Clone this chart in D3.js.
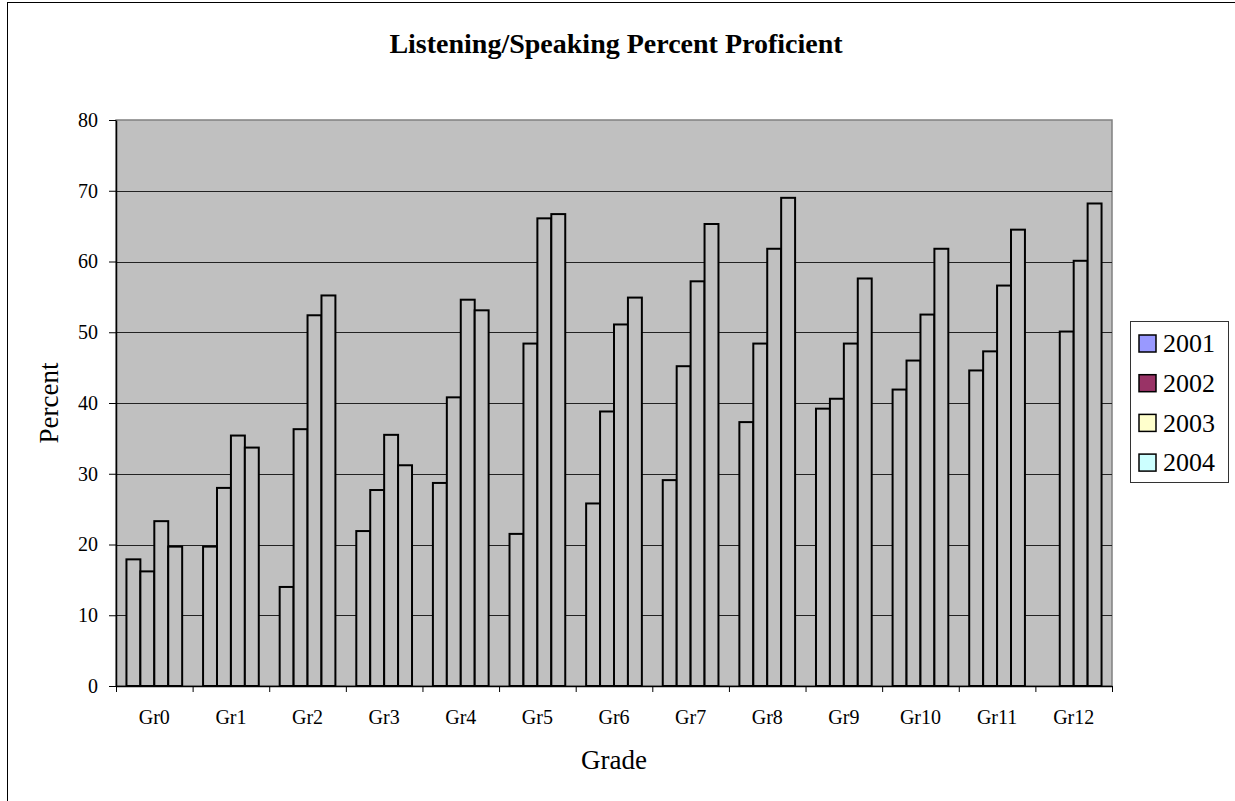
<!DOCTYPE html>
<html>
<head>
<meta charset="utf-8">
<script src="https://cdn.jsdelivr.net/npm/d3@7"></script>
<style>
  body { margin: 0; background: #fff; }
  svg { display: block; }
  svg text { font-family: "Liberation Serif", "Times New Roman", serif; }
</style>
</head>
<body>
<script>
// values
const grades = ['Gr0', 'Gr1', 'Gr2', 'Gr3', 'Gr4', 'Gr5', 'Gr6', 'Gr7', 'Gr8', 'Gr9', 'Gr10', 'Gr11', 'Gr12'];
const years = ['2001', '2002', '2003', '2004'];
const y2001 = [17.9, 19.7, 14.0, 21.9, 28.7, 21.5, 25.8, 29.1, 37.3, 39.2, 41.9, 44.6, null];
const y2002 = [16.2, 28.0, 36.3, 27.7, 40.8, 48.4, 38.8, 45.2, 48.4, 40.6, 46.0, 47.3, 50.1];
const y2003 = [23.3, 35.4, 52.4, 35.5, 54.6, 66.1, 51.1, 57.2, 61.8, 48.4, 52.5, 56.6, 60.1];
const y2004 = [19.7, 33.7, 55.2, 31.2, 53.1, 66.7, 54.9, 65.3, 69.0, 57.6, 61.8, 64.5, 68.2];
const yTicks = [0, 10, 20, 30, 40, 50, 60, 70, 80];
const legendColors = ['#9999ff', '#993366', '#ffffcc', '#ccffff'];

const width = 1235;
const height = 801;
const plot = { left: 116, right: 1112, top: 120, bottom: 686 };
const serif = '"Liberation Serif", "Times New Roman", serif';

const series = [y2001, y2002, y2003, y2004];

const svg = d3.select('body').append('svg')
  .attr('width', width)
  .attr('height', height);

// outer chart frame (right and bottom fall off the page)
svg.append('rect')
  .attr('x', 7.5).attr('y', 2.5)
  .attr('width', 1240).attr('height', 820)
  .attr('fill', '#fff')
  .attr('stroke', '#000');

const x0 = d3.scaleBand()
  .domain(grades)
  .range([plot.left, plot.right]);

const x1 = d3.scaleBand()
  .domain(years)
  .range([0, x0.bandwidth()])
  .paddingOuter(0.75);

const y = d3.scaleLinear()
  .domain([0, 80])
  .range([plot.bottom, plot.top]);

// plot area
svg.append('rect')
  .attr('x', plot.left).attr('y', plot.top)
  .attr('width', plot.right - plot.left)
  .attr('height', plot.bottom - plot.top)
  .attr('fill', '#c0c0c0')
  .attr('stroke', '#808080')
  .attr('stroke-width', 1.5);

// gridlines
svg.append('g')
  .attr('transform', `translate(${plot.left},0)`)
  .call(d3.axisLeft(y).tickValues(yTicks.slice(1, -1)).tickSize(-(plot.right - plot.left)).tickFormat(''))
  .call(g => g.select('.domain').remove())
  .call(g => g.selectAll('line').attr('stroke', '#222').attr('shape-rendering', 'crispEdges'));

// bars
const rows = grades.map((g, i) => ({ grade: g, values: years.map((yr, j) => ({ year: yr, value: series[j][i] })) }));

svg.append('g')
  .selectAll('g')
  .data(rows)
  .join('g')
  .attr('transform', d => `translate(${x0(d.grade)},0)`)
  .selectAll('rect')
  .data(d => d.values.filter(v => v.value != null))
  .join('rect')
  .attr('x', d => x1(d.year))
  .attr('y', d => y(d.value))
  .attr('width', x1.bandwidth())
  .attr('height', d => y(0) - y(d.value))
  .attr('fill', '#c0c0c0')
  .attr('stroke', '#000')
  .attr('stroke-width', 2);

// y axis
svg.append('g')
  .attr('transform', `translate(${plot.left},0)`)
  .call(d3.axisLeft(y).tickValues(yTicks).tickSize(7).tickPadding(11).tickSizeOuter(0))
  .attr('font-family', serif)
  .call(g => g.select('.domain').attr('stroke', '#000').attr('stroke-width', 1.5))
  .call(g => g.selectAll('.tick line').attr('stroke', '#000'))
  .call(g => g.selectAll('text')
    .attr('font-size', 20)
    .attr('fill', '#000'));

// x axis: ticks on the category boundaries
const xb = d3.scaleLinear().domain([0, grades.length]).range([plot.left, plot.right]);
svg.append('g')
  .attr('transform', `translate(0,${plot.bottom})`)
  .call(d3.axisBottom(xb).tickValues(d3.range(grades.length + 1)).tickSize(6).tickSizeOuter(0).tickFormat(''))
  .call(g => g.select('.domain').attr('stroke', '#000').attr('stroke-width', 1.5))
  .call(g => g.selectAll('.tick line').attr('stroke', '#000'));

// x category labels
svg.append('g')
  .attr('transform', `translate(0,${plot.bottom})`)
  .call(d3.axisBottom(x0).tickSize(0).tickPadding(24))
  .attr('font-family', serif)
  .call(g => g.select('.domain').remove())
  .call(g => g.selectAll('text')
    .attr('font-size', 20)
    .attr('fill', '#000'));

// title
svg.append('text')
  .attr('x', 616)
  .attr('y', 53)
  .attr('text-anchor', 'middle')
  .attr('font-size', 28)
  .attr('font-weight', 'bold')
  .text('Listening/Speaking Percent Proficient');

// axis titles
svg.append('text')
  .attr('x', (plot.left + plot.right) / 2)
  .attr('y', 769)
  .attr('text-anchor', 'middle')
  .attr('font-size', 27)
  .text('Grade');

svg.append('text')
  .attr('transform', `translate(58,${(plot.top + plot.bottom) / 2}) rotate(-90)`)
  .attr('text-anchor', 'middle')
  .attr('font-size', 27)
  .text('Percent');

// legend
const legend = svg.append('g');
legend.append('rect')
  .attr('x', 1130.5).attr('y', 321.5)
  .attr('width', 98).attr('height', 161)
  .attr('fill', '#fff')
  .attr('stroke', '#333');

const item = legend.selectAll('g.item')
  .data(years)
  .join('g')
  .attr('class', 'item')
  .attr('transform', (d, i) => `translate(1139,${343 + i * 39.7})`);

item.append('rect')
  .attr('x', 0).attr('y', -8)
  .attr('width', 17).attr('height', 17)
  .attr('fill', (d, i) => legendColors[i])
  .attr('stroke', '#000')
  .attr('stroke-width', 1.5);

item.append('text')
  .attr('x', 24)
  .attr('dy', '0.35em')
  .attr('font-size', 26)
  .text(d => d);
</script>
</body>
</html>
